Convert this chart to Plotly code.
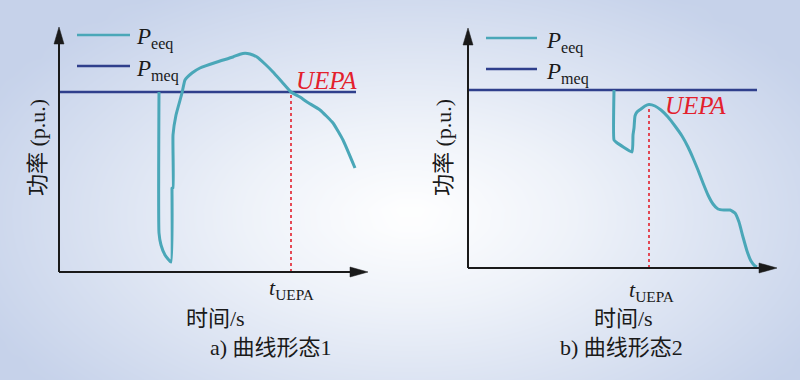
import numpy as np
import plotly.graph_objects as go

W, H = 800, 380

# ---------------- data (schematic units) ----------------
# panel a
a_peeq_x = [100, 100, 102, 106, 112, 113, 113, 114, 114, 117, 123, 126, 133, 141, 158, 174, 181, 186, 191, 198, 206, 214, 223, 232, 241, 248, 261, 274, 284, 296]
a_peeq_y = [180, 39, 27, 17, 10, 82, 84, 84, 137, 157, 179, 192, 199, 204, 210, 215, 217.8, 218.8, 218, 215, 208, 200, 190, 180, 175, 170, 162, 149, 132, 104]
a_pmeq_x = [0, 297]
a_pmeq_y = [180, 180]
a_uepa_t = 232
a_uepa_p = 180

# panel b
b_peeq_x = [146, 146, 148, 164, 165, 166, 167, 169, 173, 177, 181, 187, 193, 200, 207, 214, 220, 225, 230, 235, 240, 245, 250, 256, 262, 267, 271, 275, 279, 283, 287, 289]
b_peeq_y = [178, 128, 126, 116, 133, 140, 152, 156, 159, 162, 163.5, 162, 158, 151, 142, 132, 121, 110, 98, 85, 73, 64, 59, 58, 58, 55, 46, 31, 17, 7, 2, 1]
b_pmeq_x = [0, 289]
b_pmeq_y = [178, 178]
b_uepa_t = 181
b_uepa_p = 163.5

x_title = "时间/s"
y_title = "功率 (p.u.)"
captions = ["a) 曲线形态1", "b) 曲线形态2"]

TEAL = "#4aa7b8"
NAVY = "#2f3f8c"
RED = "#e3202c"
INK = "#1a1a1a"
SERIF = "Liberation Serif, Times New Roman, Noto Sans CJK SC"
CJK = "Liberation Serif, Noto Sans CJK SC"

fig = go.Figure()

# ---------------- background radial gradient (decoration) ----------------
gx = np.linspace(0, W, 41)
gy = np.linspace(0, H, 21)
GX, GY = np.meshgrid(gx, gy)
d = np.sqrt(((GX - 410) / 470) ** 2 + ((GY - 215) / 260) ** 2)
z = np.clip(d, 0, 1.0)
fig.add_trace(go.Heatmap(x=gx, y=H - gy, z=z, zmin=0, zmax=1, zsmooth="best",
                         colorscale=[[0, "#ffffff"], [0.35, "#eef2f9"], [1, "#c6d2ea"]],
                         showscale=False, hoverinfo="skip", xaxis="x", yaxis="y"))
fig.update_layout(
    xaxis=dict(domain=[0, 1], range=[0, W], visible=False, fixedrange=True),
    yaxis=dict(domain=[0, 1], range=[0, H], visible=False, fixedrange=True),
)

panels = [
    dict(ox=59, oy=272, xtip=309, ytip=245, px=a_peeq_x, py=a_peeq_y, mx=a_pmeq_x, my=a_pmeq_y,
         ut=a_uepa_t, up=a_uepa_p, leg_x0=18, leg_x1=71, leg_y=[237, 206], xa="x2", ya="y2",
         uepa_xy=(326, 80), tlab_xy=(291, 289), xt_xy=(215, 318), cap_xy=(271, 347), yt_x=37, leg_lab_x=134),
    dict(ox=468, oy=268, xtip=309, ytip=240, px=b_peeq_x, py=b_peeq_y, mx=b_pmeq_x, my=b_pmeq_y,
         ut=b_uepa_t, up=b_uepa_p, leg_x0=18, leg_x1=69, leg_y=[230, 199], xa="x3", ya="y3",
         uepa_xy=(695, 106), tlab_xy=(651, 291), xt_xy=(623, 318), cap_xy=(621, 347), yt_x=443, leg_lab_x=544),
]

def px2paper(x, y):
    return x / W, 1 - y / H

def ann(x, y, text, size, color=INK, family=SERIF, xanchor="center", angle=0):
    px_, py_ = px2paper(x, y)
    fig.add_annotation(x=px_, y=py_, xref="paper", yref="paper", xanchor=xanchor, yanchor="middle",
                       text=text, showarrow=False, textangle=angle,
                       font=dict(family=family, size=size, color=color))

for i, p in enumerate(panels):
    ox, oy = p["ox"], p["oy"]
    ax_n = "xaxis%d" % (i + 2)
    ay_n = "yaxis%d" % (i + 2)
    fig.update_layout(**{
        ax_n: dict(domain=[(ox - 10) / W, (ox + 320) / W], range=[-10, 320], visible=False, fixedrange=True),
        ay_n: dict(domain=[(H - oy - 10) / H, (H - oy + 255) / H], range=[-10, 255], visible=False, fixedrange=True),
    })
    xa, ya = p["xa"], p["ya"]
    # axes with arrows
    fig.add_shape(type="line", x0=0, y0=0, x1=p["xtip"] - 16, y1=0, xref=xa, yref=ya, line=dict(color=INK, width=2))
    fig.add_shape(type="line", x0=0, y0=0, x1=0, y1=p["ytip"] - 14, xref=xa, yref=ya, line=dict(color=INK, width=2))
    xt, yt = p["xtip"], p["ytip"]
    fig.add_shape(type="path", path=f"M {xt-18},-5 L {xt},0 L {xt-18},5 Z", xref=xa, yref=ya,
                  fillcolor=INK, line=dict(color=INK, width=0.5))
    fig.add_shape(type="path", path=f"M -5,{yt-17} L 0,{yt} L 5,{yt-17} Z", xref=xa, yref=ya,
                  fillcolor=INK, line=dict(color=INK, width=0.5))
    # UEPA dashed line
    fig.add_trace(go.Scatter(x=[p["ut"], p["ut"]], y=[0, p["up"]], mode="lines", xaxis=xa, yaxis=ya,
                             line=dict(color=RED, width=1.6, dash="dot"), hoverinfo="skip", showlegend=False))
    # Pmeq
    fig.add_trace(go.Scatter(x=p["mx"], y=p["my"], mode="lines", xaxis=xa, yaxis=ya,
                             line=dict(color=NAVY, width=2.6), hoverinfo="skip", showlegend=False))
    # Peeq
    fig.add_trace(go.Scatter(x=p["px"], y=p["py"], mode="lines", xaxis=xa, yaxis=ya,
                             line=dict(color=TEAL, width=3, shape="spline", smoothing=0.4),
                             hoverinfo="skip", showlegend=False))
    # legend lines
    for ly, col in zip(p["leg_y"], [TEAL, NAVY]):
        fig.add_trace(go.Scatter(x=[p["leg_x0"], p["leg_x1"]], y=[ly, ly], mode="lines", xaxis=xa, yaxis=ya,
                                 line=dict(color=col, width=2.6), hoverinfo="skip", showlegend=False))
    # legend labels
    for ly, sub in zip(p["leg_y"], ["eeq", "meq"]):
        ann(p["leg_lab_x"], oy - ly + 4, f"<i>P</i><sub>{sub}</sub>", 23, xanchor="left")
    ann(*p["uepa_xy"], "<i>UEPA</i>", 25, color=RED)
    ann(*p["tlab_xy"], "<i>t</i><sub>UEPA</sub>", 22)
    ann(*p["xt_xy"], x_title, 22, family=CJK)
    ann(*p["cap_xy"], captions[i], 22, family=CJK)
    ann(p["yt_x"], 148, y_title, 22, family=CJK, angle=-90)

fig.update_layout(width=W, height=H, margin=dict(l=0, r=0, t=0, b=0),
                  paper_bgcolor="#dfe6f3", plot_bgcolor="rgba(0,0,0,0)", showlegend=False)

fig.write_html("out.html", config={"displayModeBar": False, "staticPlot": True},
               post_script="document.body.style.margin='0';document.body.style.overflow='hidden';")
